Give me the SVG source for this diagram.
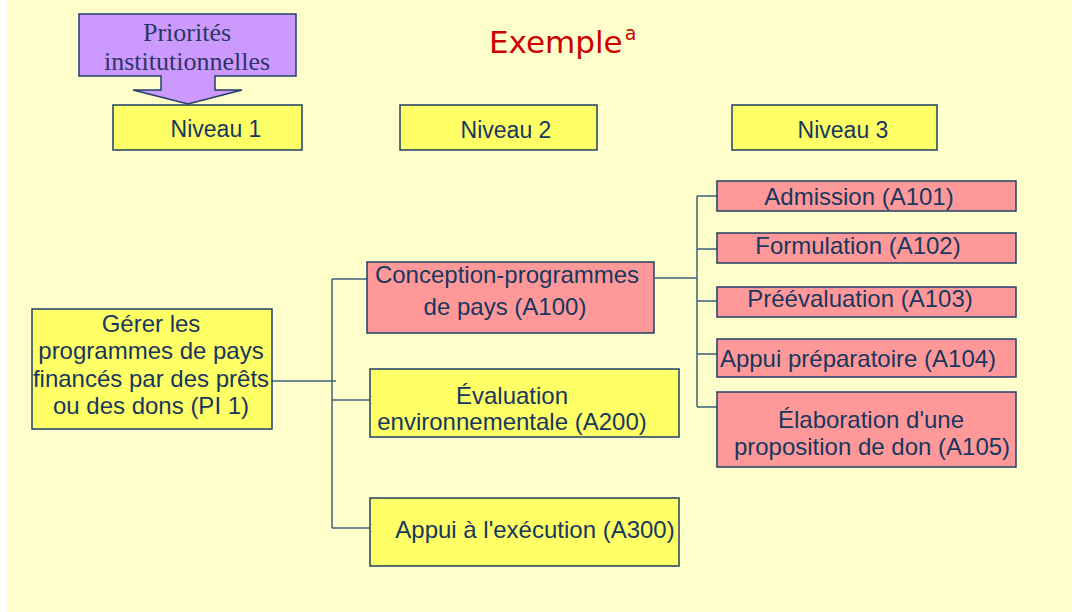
<svg xmlns="http://www.w3.org/2000/svg" width="1072" height="612" viewBox="0 0 1072 612">
<style>
.t{font-family:"Liberation Sans",Arial,sans-serif;font-size:24px;fill:#17375E;text-anchor:middle}
.n{font-size:23px}
.y{fill:#FFFF66;stroke:#1F3F66;stroke-width:1.5}
.p{fill:#FF9999;stroke:#1F3F66;stroke-width:1.5}
.c{fill:none;stroke:#3E6079;stroke-width:1.5}
</style>
<rect x="0" y="0" width="1072" height="612" fill="#FFFFFF"/>
<rect x="7" y="0" width="1065" height="612" fill="#FFFFCC"/>
<g id="title">
<text x="489" y="53" font-family="DejaVu Sans,Verdana,sans-serif" font-size="31" fill="#CC0000">Exemple<tspan dx="2" dy="-13" font-size="19">a</tspan></text>
</g>
<g id="priorites">
<path d="M79,14 H296 V76 H215 V90 H242 L188,104 L133,90 H161 V76 H79 Z" fill="#CC99FF" stroke="#1F3F66" stroke-width="1.5" stroke-linejoin="miter"/>
<text x="187" y="41" font-family="Liberation Serif,Times New Roman,serif" font-size="26" fill="#2E3566" text-anchor="middle">Priorités</text>
<text x="187" y="70" font-family="Liberation Serif,Times New Roman,serif" font-size="26" fill="#2E3566" text-anchor="middle">institutionnelles</text>
</g>
<g id="niveau1"><rect class="y" x="113" y="105" width="189" height="45"/><text class="t n" x="216" y="137">Niveau 1</text></g>
<g id="niveau2"><rect class="y" x="400" y="105" width="197" height="45"/><text class="t n" x="506" y="138">Niveau 2</text></g>
<g id="niveau3"><rect class="y" x="732" y="105" width="205" height="45"/><text class="t n" x="843" y="138">Niveau 3</text></g>
<g id="connectors">
<path class="c" d="M272,381 H336"/>
<path class="c" d="M332,279 V528"/>
<path class="c" d="M332,279 H367 M332,400 H370 M332,528 H370"/>
<path class="c" d="M655,278 H697"/>
<path class="c" d="M697,196 V407"/>
<path class="c" d="M697,196 H717 M697,249 H717 M697,301 H717 M697,354 H717 M697,407 H717"/>
</g>
<g id="pi1"><rect class="y" x="32" y="309" width="240" height="120"/>
<text class="t" x="151" y="332">Gérer les</text>
<text class="t" x="151" y="359">programmes de pays</text>
<text class="t" x="151" y="387">financés par des prêts</text>
<text class="t" x="151" y="414">ou des dons (PI 1)</text>
</g>
<g id="a100"><rect class="p" x="367" y="262" width="287" height="71"/>
<text class="t" x="507" y="283">Conception-programmes</text>
<text class="t" x="505" y="315">de pays (A100)</text>
</g>
<g id="a200"><rect class="y" x="370" y="369" width="309" height="68"/>
<text class="t" x="512" y="404">Évaluation</text>
<text class="t" x="512" y="430">environnementale (A200)</text>
</g>
<g id="a300"><rect class="y" x="370" y="498" width="309" height="68"/>
<text class="t" x="535" y="538">Appui à l'exécution (A300)</text>
</g>
<g id="a101"><rect class="p" x="717" y="181" width="299" height="30"/><text class="t" x="859" y="205">Admission (A101)</text></g>
<g id="a102"><rect class="p" x="717" y="233" width="299" height="30"/><text class="t" x="858" y="254">Formulation (A102)</text></g>
<g id="a103"><rect class="p" x="717" y="287" width="299" height="30"/><text class="t" x="860" y="307">Préévaluation (A103)</text></g>
<g id="a104"><rect class="p" x="717" y="339" width="299" height="38"/><text class="t" x="858" y="367">Appui préparatoire (A104)</text></g>
<g id="a105"><rect class="p" x="717" y="392" width="299" height="75"/>
<text class="t" x="871" y="428">Élaboration d'une</text>
<text class="t" x="872" y="455">proposition de don (A105)</text>
</g>
</svg>
